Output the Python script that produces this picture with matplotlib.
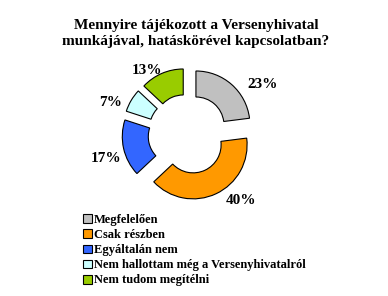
import matplotlib

matplotlib.use("Agg")

import matplotlib.pyplot as plt
from matplotlib.patches import Patch

TITLE = "Mennyire tájékozott a Versenyhivatal\nmunkájával, hatáskörével kapcsolatban?"
CATEGORIES = [
    "Megfelelően",
    "Csak részben",
    "Egyáltalán nem",
    "Nem hallottam még a Versenyhivatalról",
    "Nem tudom megítélni",
]
VALUES = [23, 40, 17, 7, 13]
COLORS = ["#C0C0C0", "#FF9900", "#3366FF", "#CCFFFF", "#99CC00"]

# layout in pixel units (y measured from the bottom)
W, H = 388, 296
CENTER = (188, H - 134)
RADIUS = 54
RING = 26
EXPLODE = 12  # pixels
LABEL_XY = [(263, 85), (241, 200), (106, 159), (111, 103), (147, 70)]

plt.rcParams["font.family"] = ["Liberation Serif", "DejaVu Serif"]

fig = plt.figure(figsize=(W / 100, H / 100), dpi=100)
ax = fig.add_axes([0, 0, 1, 1])

wedges, texts = ax.pie(
    VALUES,
    colors=COLORS,
    labels=[f"{v}%" for v in VALUES],
    explode=[EXPLODE] * len(VALUES),
    startangle=90,
    counterclock=False,
    center=CENTER,
    radius=RADIUS,
    wedgeprops=dict(width=RING, edgecolor="black", linewidth=0.8),
    textprops=dict(fontsize=11, fontweight="bold", ha="center", va="center"),
)
for text, (x, y) in zip(texts, LABEL_XY):
    text.set_position((x, H - y))
    text.set_ha("center")
    text.set_va("center")

ax.set_xlim(0, W)
ax.set_ylim(0, H)
ax.set_aspect("equal")
ax.axis("off")

fig.text(
    196 / W,
    1 - 33 / H,
    TITLE,
    ha="center",
    va="center",
    fontsize=11,
    fontweight="bold",
    linespacing=1.3,
)

handles = [Patch(facecolor=c, edgecolor="black", linewidth=0.8) for c in COLORS]
ax.legend(
    handles,
    CATEGORIES,
    loc="upper left",
    bbox_to_anchor=(78 / W, 1 - 209 / H),
    bbox_transform=fig.transFigure,
    frameon=False,
    handlelength=0.7,
    handleheight=0.7,
    handletextpad=0.15,
    labelspacing=0.25,
    borderaxespad=0,
    prop=dict(size=9, weight="bold"),
)

fig.savefig("out.png", dpi=100)
